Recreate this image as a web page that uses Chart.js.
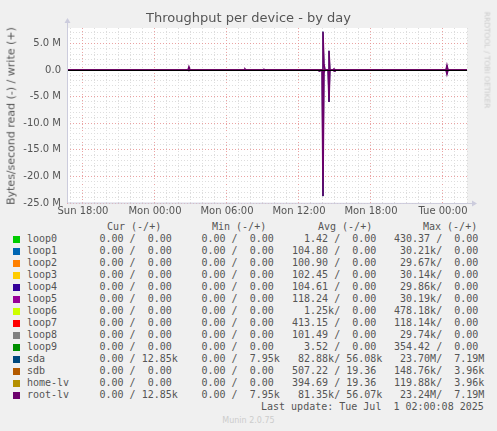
<!doctype html>
<html>
<head>
<meta charset="utf-8">
<script src="https://cdn.jsdelivr.net/npm/chart.js"></script>
<style>
  body{margin:0;background:#f0f0f0;width:497px;height:431px;position:relative;overflow:hidden;font-family:"DejaVu Sans",sans-serif;color:#555}
  #wrap{position:absolute;left:0;top:0;width:497px;height:215px}
  .t{position:absolute;white-space:pre;font-family:"DejaVu Sans Mono",monospace;font-size:10px;line-height:12px;color:#555}
  .sq{position:absolute;width:7px;height:7px}
</style>
</head>
<body>
<div id="wrap"><canvas id="chart"></canvas></div>
<div style="position:absolute;left:0;width:497px;top:10px;text-align:center;font-size:13px;color:#555">Throughput per device - by day</div>
<div style="position:absolute;left:11px;top:116px;transform:translate(-50%,-50%) rotate(-90deg);font-size:11px;white-space:nowrap">Bytes/second read (-) / write (+)</div>
<div style="position:absolute;left:487px;top:60px;transform:translate(-50%,-50%) rotate(90deg);font-size:7.5px;color:#ccc;white-space:nowrap">RRDTOOL / TOBI OETIKER</div>
<div id="legend"></div>
<div class="t" style="left:261px;top:401px">Last update: Tue Jul  1 02:00:08 2025</div>
<div style="position:absolute;left:0;width:497px;top:416px;text-align:center;font-size:8px;color:#ccc">Munin 2.0.75</div>
<script>
// time in hours since Sun 00:00
const TIMES = [16.67, 26.75, 26.83, 26.92, 31.42, 31.5, 31.58, 33.0, 33.08, 33.17, 37.58, 37.67, 37.75,
               37.92, 38.0, 38.08, 38.17, 38.42, 38.5, 38.58, 38.83, 38.92, 39.0, 48.25, 48.33, 48.42, 50];
const ROOT_WRITE = [0, 0, 0.6e6, 0, 0, 0.2e6, 0, 0, 0.15e6, 0, 0, 0, 0,
                    0, 7.2e6, 1.2e6, 0, 0, 3.6e6, 0, 0, 0.2e6, 0, 0, 0.9e6, 0, 0];
const ROOT_READ = [0, 0, -0.1e6, 0, 0, 0, 0, 0, 0, 0, 0, -0.2e6, 0,
                   0, -23.7e6, -0.5e6, 0, 0, -6.0e6, 0, 0, -0.2e6, 0, 0, -0.8e6, 0, 0];
const SDA_WRITE = ROOT_WRITE;
const SDA_READ = [0, 0, -0.1e6, 0, 0, 0, 0, 0, 0, 0, 0, -0.2e6, 0,
                  0, -23.7e6, -0.5e6, 0, 0, -6.0e6, 0, 0, -0.2e6, 0, 0, -0.8e6, 0, 0];

const DEVICES = ['loop0','loop1','loop2','loop3','loop4','loop5','loop6','loop7','loop8','loop9','sda','sdb','home-lv','root-lv'];
const COLORS = ['#00cc00','#0066b3','#ff8000','#ffcc00','#330099','#990099','#ccff00','#ff0000','#808080','#008f00','#00487d','#b35a00','#b38f00','#6b006b'];
const CUR = ['0.00 /  0.00','0.00 /  0.00','0.00 /  0.00','0.00 /  0.00','0.00 /  0.00','0.00 /  0.00','0.00 /  0.00','0.00 /  0.00','0.00 /  0.00','0.00 /  0.00','0.00 / 12.85k','0.00 /  0.00','0.00 /  0.00','0.00 / 12.85k'];
const MIN = ['0.00 /  0.00','0.00 /  0.00','0.00 /  0.00','0.00 /  0.00','0.00 /  0.00','0.00 /  0.00','0.00 /  0.00','0.00 /  0.00','0.00 /  0.00','0.00 /  0.00','0.00 /  7.95k','0.00 /  0.00','0.00 /  0.00','0.00 /  7.95k'];
const AVG = ['  1.42 /  0.00','104.80 /  0.00','100.90 /  0.00','102.45 /  0.00','104.61 /  0.00','118.24 /  0.00','  1.25k/  0.00','413.15 /  0.00','101.49 /  0.00','  3.52 /  0.00',' 82.88k/ 56.08k','507.22 / 19.36','394.69 / 19.36',' 81.35k/ 56.07k'];
const MAX = ['430.37 /  0.00',' 30.21k/  0.00',' 29.67k/  0.00',' 30.14k/  0.00',' 29.86k/  0.00',' 30.19k/  0.00','478.18k/  0.00','118.14k/  0.00',' 29.74k/  0.00','354.42 /  0.00',' 23.70M/  7.19M','148.76k/  3.96k','119.88k/  3.96k',' 23.24M/  7.19M'];
const DAYLABELS = {18:'Sun 18:00',24:'Mon 00:00',30:'Mon 06:00',36:'Mon 12:00',42:'Mon 18:00',48:'Tue 00:00'};

// legend
let html = '<div class="t" style="left:107px;top:221px">Cur (-/+)</div><div class="t" style="left:212px;top:221px">Min (-/+)</div>' +
           '<div class="t" style="left:318px;top:221px">Avg (-/+)</div><div class="t" style="left:423px;top:221px">Max (-/+)</div>';
DEVICES.forEach((d,i)=>{
  const top = 233 + i*12;
  html += `<div class="sq" style="left:13px;top:${top+3}px;background:${COLORS[i]}"></div>`;
  html += `<div class="t" style="left:27px;top:${top}px">${d}</div>`;
  html += `<div class="t" style="left:99.5px;top:${top}px">${CUR[i]}</div>`;
  html += `<div class="t" style="left:201.5px;top:${top}px">${MIN[i]}</div>`;
  html += `<div class="t" style="left:292px;top:${top}px">${AVG[i]}</div>`;
  html += `<div class="t" style="left:394px;top:${top}px">${MAX[i]}</div>`;
});
document.getElementById('legend').innerHTML = html;

const pts = arr => TIMES.map((t,i)=>({x:t,y:arr[i]}));
const zero = [{x:TIMES[0],y:0},{x:TIMES[TIMES.length-1],y:0}];
const sets = [];
DEVICES.forEach((d,i)=>{
  let w = zero, r = zero;
  if(d==='sda'){w=pts(SDA_WRITE);r=pts(SDA_READ);}
  if(d==='root-lv'){w=pts(ROOT_WRITE);r=pts(ROOT_READ);}
  const bw = d==='root-lv'?1.5:1;
  // later devices drawn on top, like rrdtool
  sets.push({data:r,borderColor:COLORS[i],borderWidth:bw,pointRadius:0,tension:0,order:100-i});
  sets.push({data:w,borderColor:COLORS[i],borderWidth:bw,pointRadius:0,tension:0,order:100-i});
});

const bgPlugin = {
  id:'bg',
  beforeDraw({ctx,chartArea:{left,right,top,bottom}}){
    ctx.save();ctx.fillStyle='#fff';ctx.fillRect(left,top,right-left,bottom-top);ctx.restore();
  },
  afterDatasetsDraw({ctx,chartArea:{left,right,top,bottom},scales:{y}}){
    ctx.save();
    const y0 = Math.round(y.getPixelForValue(0))+0.5;
    ctx.strokeStyle='#000';ctx.lineWidth=1;
    ctx.beginPath();ctx.moveTo(left,y0);ctx.lineTo(right,y0);ctx.stroke();
    ctx.strokeStyle='#ccd';
    ctx.beginPath();ctx.moveTo(left+0.5,top-8);ctx.lineTo(left+0.5,bottom);ctx.lineTo(right+8,bottom+0.5);ctx.stroke();
    ctx.fillStyle='#ccd';
    ctx.beginPath();ctx.moveTo(left-2.5,top-5);ctx.lineTo(left+3.5,top-5);ctx.lineTo(left+0.5,top-10);ctx.fill();
    ctx.beginPath();ctx.moveTo(right+5,bottom-2.5);ctx.lineTo(right+5,bottom+3.5);ctx.lineTo(right+10,bottom+0.5);ctx.fill();
    ctx.restore();
  }
};

new Chart(document.getElementById('chart'),{
  type:'line',
  data:{datasets:sets},
  options:{
    responsive:true,maintainAspectRatio:false,animation:false,
    layout:{padding:{left:0,right:30,top:28,bottom:0}},
    plugins:{legend:{display:false},tooltip:{enabled:false}},
    scales:{
      x:{type:'linear',min:16.67,max:50,
        afterBuildTicks(s){s.ticks=[];for(let h=17;h<=50;h++)s.ticks.push({value:h});},
        afterFit(s){s.height=12;},
        grid:{drawTicks:false,color:c=>DAYLABELS[c.tick&&c.tick.value]?'rgba(230,140,140,0.8)':'#ddd'},
        border:{display:false,dash:[1,2]},
        ticks:{padding:2,autoSkip:false,maxRotation:0,color:'#555',font:{family:'DejaVu Sans',size:10},
          callback:v=>DAYLABELS[v]||''}
      },
      y:{min:-25e6,max:7.9e6,
        afterBuildTicks(s){s.ticks=[];for(let m=-25;m<=7;m++)s.ticks.push({value:m*1e6});},
        afterFit(s){s.width=67;},
        grid:{drawTicks:false,color:c=>(c.tick&&Math.round(c.tick.value/1e6)%5===0)?'rgba(230,140,140,0.8)':'#ddd'},
        border:{display:false,dash:[1,2]},
        ticks:{padding:6,autoSkip:false,color:'#555',font:{family:'DejaVu Sans',size:10},
          callback:v=>{const m=Math.round(v/1e6);if(m%5)return '';return m===0?'0.0':m.toFixed(1)+' M';}}
      }
    }
  },
  plugins:[bgPlugin]
});
</script>
</body>
</html>
